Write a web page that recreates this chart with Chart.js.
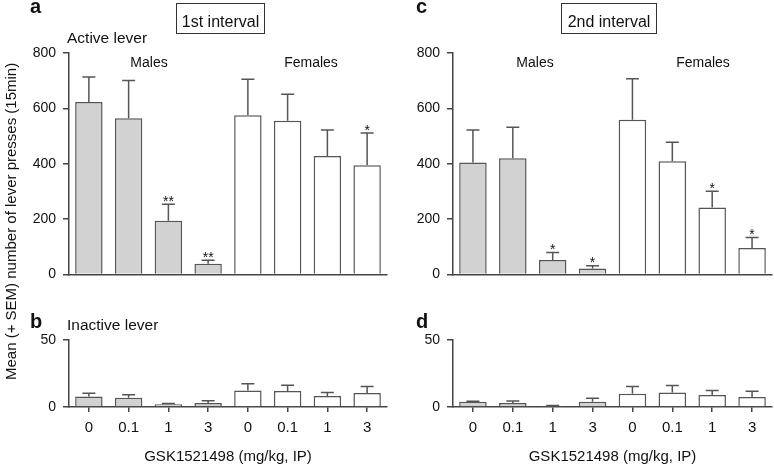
<!DOCTYPE html>
<html>
<head>
<meta charset="utf-8">
<script src="https://cdn.jsdelivr.net/npm/chart.js@4.4.1/dist/chart.umd.min.js"></script>
<style>
  body { margin: 0; background: #fff; }
  #fig { position: relative; width: 774px; height: 466px; overflow: hidden;
         font-family: "Liberation Sans", Arial, sans-serif; color: #111; }
  #fig canvas { position: absolute; }
  .lbl { position: absolute; line-height: 1; white-space: nowrap; }
  .panel { font-weight: bold; font-size: 20px; }
  .mid { transform: translateX(-50%); }
  .box { position: absolute; border: 1.5px solid #333; box-sizing: border-box; }
  .ytitle { left: 3px; top: 380px; font-size: 15px; transform-origin: 0 0; transform: rotate(-90deg); }
</style>
</head>
<body>
<div id="fig">
  <canvas id="chartA" width="390" height="290" style="left:0;top:0"></canvas>
  <canvas id="chartB" width="390" height="176" style="left:0;top:290px"></canvas>
  <canvas id="chartC" width="384" height="290" style="left:390px;top:0"></canvas>
  <canvas id="chartD" width="384" height="176" style="left:390px;top:290px"></canvas>

  <div class="lbl panel" style="left:30px;top:-4px">a</div>
  <div class="lbl panel" style="left:416px;top:-4px">c</div>
  <div class="lbl panel" style="left:30px;top:311px">b</div>
  <div class="lbl panel" style="left:416px;top:311px">d</div>

  <div class="box" style="left:176px;top:3px;width:89px;height:31px"></div>
  <div class="lbl mid" style="left:220.5px;top:13.5px;font-size:16px">1st interval</div>
  <div class="box" style="left:561px;top:3px;width:96px;height:31px"></div>
  <div class="lbl mid" style="left:609px;top:13.5px;font-size:16px">2nd interval</div>

  <div class="lbl" style="left:67px;top:29.6px;font-size:15.5px">Active lever</div>
  <div class="lbl" style="left:67px;top:317px;font-size:15.5px">Inactive lever</div>

  <div class="lbl mid" style="left:149px;top:54.8px;font-size:14px">Males</div>
  <div class="lbl mid" style="left:311px;top:54.8px;font-size:14px">Females</div>
  <div class="lbl mid" style="left:535px;top:54.8px;font-size:14px">Males</div>
  <div class="lbl mid" style="left:703px;top:54.8px;font-size:14px">Females</div>

  <div class="lbl ytitle">Mean (+ SEM) number of lever presses (15min)</div>
</div>

<script>
// doses, males first then females
const doseLabels = ['0', '0.1', '1', '3', '0', '0.1', '1', '3'];

// a: active lever, 1st interval
const activeFirstMean = [623, 564, 194, 39, 575, 555, 428, 395];
const activeFirstSem = [90, 137, 60, 13, 130, 96, 94, 116];
const activeFirstStars = ['', '', '**', '**', '', '', '', '*'];

// c: active lever, 2nd interval
const activeSecondMean = [405, 420, 53, 22, 559, 409, 242, 96];
const activeSecondSem = [117, 112, 27, 10, 148, 69, 59, 38];
const activeSecondStars = ['', '', '*', '*', '', '', '*', '*'];

// b: inactive lever, 1st interval
const inactiveFirstMean = [7.9, 6.9, 2.1, 3.0, 12.3, 11.9, 8.2, 10.4];
const inactiveFirstSem = [2.4, 2.2, 0.5, 1.7, 5.0, 4.4, 2.7, 4.9];

// d: inactive lever, 2nd interval
const inactiveSecondMean = [3.9, 3.0, 0.8, 4.0, 9.9, 10.8, 9.0, 7.4];
const inactiveSecondSem = [0.4, 1.4, 0.4, 2.6, 5.4, 5.2, 3.3, 4.3];

const FONT = '"Liberation Sans", Arial, sans-serif';
const AXIS = '#444';
const TEXT = '#111';

const errorBars = {
  id: 'errorBars',
  afterDatasetsDraw(chart) {
    const ctx = chart.ctx;
    const y = chart.scales.y;
    const ds = chart.data.datasets[0];
    const meta = chart.getDatasetMeta(0);
    ctx.save();
    ctx.strokeStyle = '#555';
    ctx.lineWidth = 1.5;
    ctx.fillStyle = TEXT;
    ctx.font = '14px ' + FONT;
    ctx.textAlign = 'center';
    ctx.textBaseline = 'alphabetic';
    meta.data.forEach((bar, i) => {
      const top = y.getPixelForValue(ds.data[i] + ds.sem[i]);
      ctx.beginPath();
      ctx.moveTo(bar.x, bar.y);
      ctx.lineTo(bar.x, top);
      ctx.moveTo(bar.x - 6.5, top);
      ctx.lineTo(bar.x + 6.5, top);
      ctx.stroke();
      if (ds.stars && ds.stars[i]) {
        ctx.fillText(ds.stars[i], bar.x, top + 1.5);
      }
    });
    ctx.restore();
  }
};

function makeChart(id, mean, sem, stars, cfg) {
  const bottom = cfg.bottom;
  return new Chart(document.getElementById(id), {
    type: 'bar',
    data: {
      labels: doseLabels,
      datasets: [{
        data: mean,
        sem: sem,
        stars: stars,
        backgroundColor: (c) => c.dataIndex < 4 ? '#d2d2d2' : '#ffffff',
        borderColor: '#555',
        borderWidth: 1.5,
        barPercentage: 0.69,
        categoryPercentage: 1
      }]
    },
    options: {
      responsive: false,
      animation: false,
      layout: { padding: { left: 0, right: cfg.padRight, top: cfg.padTop, bottom: 0 } },
      plugins: { legend: { display: false }, tooltip: { enabled: false } },
      scales: {
        x: {
          afterFit: (s) => { s.height = cfg.xHeight; },
          grid: {
            offset: false,
            drawOnChartArea: false,
            drawTicks: bottom,
            tickLength: 5,
            color: AXIS,
            lineWidth: 1.5
          },
          border: { display: true, color: AXIS, width: 1.5 },
          ticks: {
            display: bottom,
            color: TEXT,
            padding: 7,
            font: { family: FONT, size: 15 }
          },
          title: {
            display: bottom,
            text: 'GSK1521498 (mg/kg, IP)',
            color: TEXT,
            padding: { top: 0, bottom: 0 },
            font: { family: FONT, size: 15 }
          }
        },
        y: {
          min: 0,
          max: cfg.yMax,
          afterFit: (s) => { s.width = cfg.yWidth; },
          grid: {
            drawOnChartArea: false,
            drawTicks: true,
            tickLength: 6,
            color: AXIS,
            lineWidth: 1.5
          },
          border: { display: true, color: AXIS, width: 1.5 },
          ticks: {
            stepSize: cfg.yStep,
            padding: 7,
            color: TEXT,
            font: { family: FONT, size: 14 }
          }
        }
      }
    },
    plugins: [errorBars]
  });
}

makeChart('chartA', activeFirstMean, activeFirstSem, activeFirstStars,
  { bottom: false, yMax: 800, yStep: 200, yWidth: 69, padTop: 53, padRight: 3, xHeight: 10 });
makeChart('chartC', activeSecondMean, activeSecondSem, activeSecondStars,
  { bottom: false, yMax: 800, yStep: 200, yWidth: 63, padTop: 53, padRight: 2, xHeight: 10 });
makeChart('chartB', inactiveFirstMean, inactiveFirstSem, null,
  { bottom: true, yMax: 50, yStep: 50, yWidth: 69, padTop: 50, padRight: 3, xHeight: 59 });
makeChart('chartD', inactiveSecondMean, inactiveSecondSem, null,
  { bottom: true, yMax: 50, yStep: 50, yWidth: 63, padTop: 50, padRight: 2, xHeight: 59 });
</script>
</body>
</html>
